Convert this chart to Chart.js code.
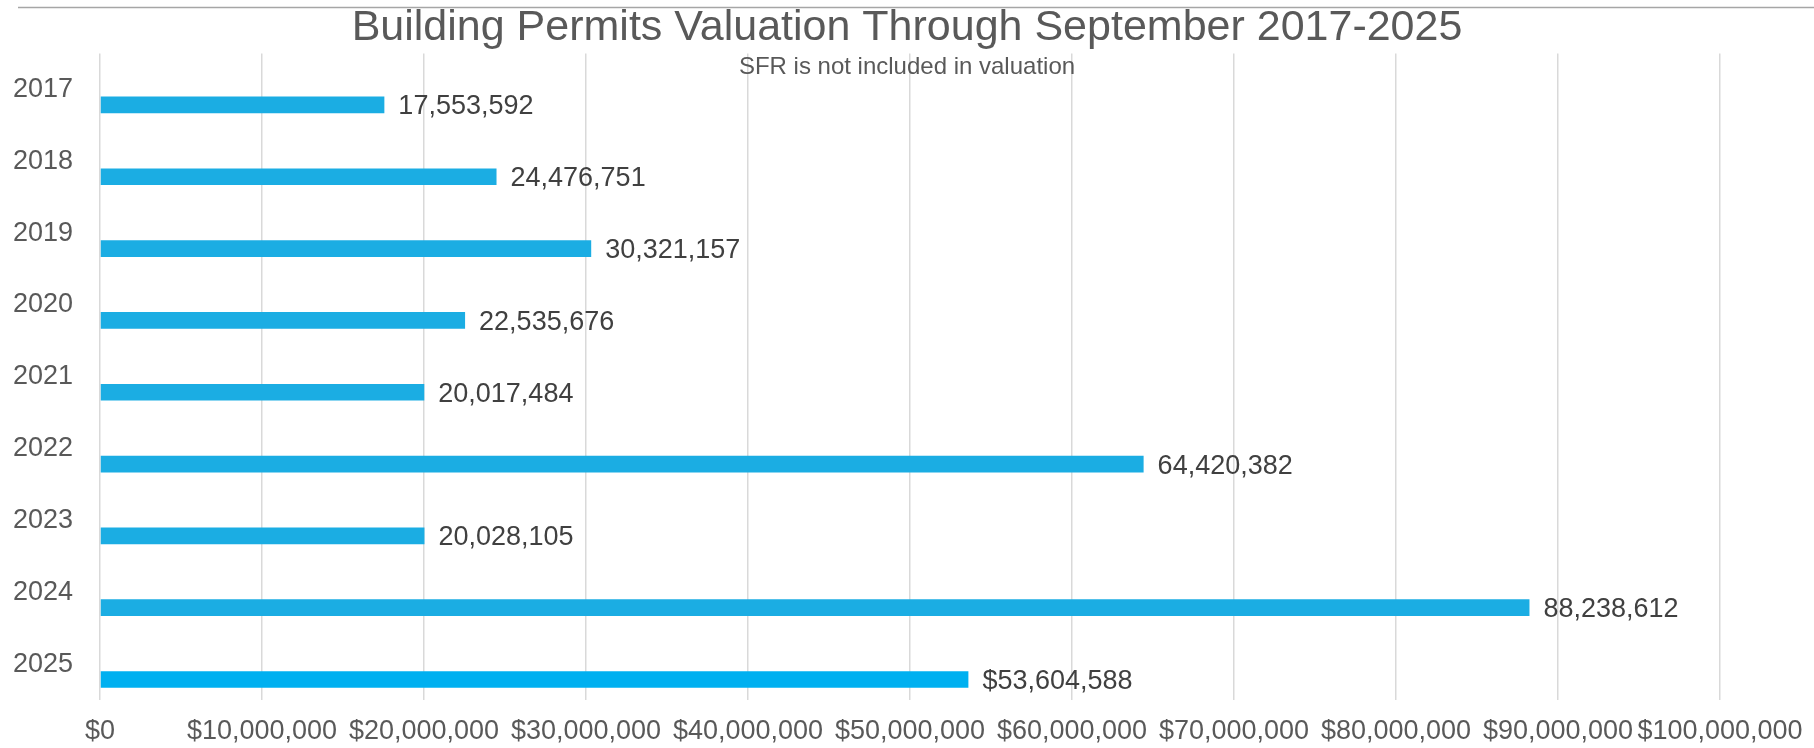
<!DOCTYPE html>
<html>
<head>
<meta charset="utf-8">
<script src="https://cdn.jsdelivr.net/npm/chart.js@4/dist/chart.umd.min.js"></script>
<style>
  html, body { margin: 0; padding: 0; background: #fff; }
  #wrap { width: 1814px; height: 748px; position: relative; }
</style>
</head>
<body>
<div id="wrap"><canvas id="permitChart"></canvas></div>
<script>
// values
const years = ["2017", "2018", "2019", "2020", "2021", "2022", "2023", "2024", "2025"];
const valuations = [17553592, 24476751, 30321157, 22535676, 20017484, 64420382, 20028105, 88238612, 53604588];
const barColors = ["#1BADE3", "#1BADE3", "#1BADE3", "#1BADE3", "#1BADE3", "#1BADE3", "#1BADE3", "#1BADE3", "#00B0F0"];
const labelPrefix = ["", "", "", "", "", "", "", "", "$"];
const emptySeries = [null, null, null, null, null, null, null, null, null];

const FONT = "'Liberation Sans', Arial, sans-serif";

// thin grey rule along the top edge
const topRule = {
  id: "topRule",
  beforeDraw(chart) {
    const c = chart.ctx;
    c.save();
    c.strokeStyle = "#a6a6a6";
    c.lineWidth = 1.5;
    c.beginPath();
    c.moveTo(18, 7.5);
    c.lineTo(chart.width, 7.5);
    c.stroke();
    c.restore();
  }
};

// value labels at the end of each bar
const barValues = {
  id: "barValues",
  afterDatasetsDraw(chart) {
    const c = chart.ctx;
    const meta = chart.getDatasetMeta(1);
    c.save();
    c.font = "27px " + FONT;
    c.fillStyle = "#404040";
    c.textAlign = "left";
    c.textBaseline = "middle";
    meta.data.forEach((bar, i) => {
      const txt = labelPrefix[i] + valuations[i].toLocaleString("en-US");
      c.fillText(txt, bar.x + 14, bar.y + 2);
    });
    c.restore();
  }
};

const ctx = document.getElementById("permitChart").getContext("2d");
const chart = new Chart(ctx, {
  type: "bar",
  data: {
    labels: years,
    datasets: [
      { label: "blank", data: emptySeries, backgroundColor: "transparent" },
      {
        label: "Valuation",
        data: valuations,
        backgroundColor: barColors,
        borderWidth: 0
      }
    ]
  },
  options: {
    indexAxis: "y",
    responsive: true,
    maintainAspectRatio: false,
    animation: false,
    devicePixelRatio: 1,
    layout: { padding: { left: 0, right: 0, top: 0, bottom: 0 } },
    datasets: { bar: { categoryPercentage: 0.86, barPercentage: 0.54 } },
    plugins: {
      legend: { display: false },
      tooltip: { enabled: false },
      title: {
        display: true,
        text: "Building Permits Valuation Through September 2017-2025",
        color: "#595959",
        font: { family: FONT, size: 43, weight: "normal" },
        padding: { top: 2, bottom: 0 }
      },
      subtitle: {
        display: true,
        text: "SFR is not included in valuation",
        color: "#595959",
        font: { family: FONT, size: 24, weight: "normal" },
        padding: { top: -1, bottom: -31 }
      }
    },
    scales: {
      x: {
        min: 0,
        max: 100000000,
        border: { display: false },
        grid: { color: "#d9d9d9", lineWidth: 1.5, drawTicks: false },
        afterFit(scale) {
          scale.height = 48;
          scale.paddingRight = 94;
        },
        ticks: {
          stepSize: 10000000,
          autoSkip: false,
          maxRotation: 0,
          padding: 19,
          color: "#595959",
          font: { family: FONT, size: 27 },
          callback: (v) => "$" + Number(v).toLocaleString("en-US")
        }
      },
      y: {
        border: { display: false },
        grid: { display: false, drawTicks: false },
        afterFit(scale) {
          scale.width = 100;
        },
        ticks: {
          padding: 27,
          color: "#595959",
          font: { family: FONT, size: 27 }
        }
      }
    }
  },
  plugins: [topRule, barValues]
});
</script>
</body>
</html>
